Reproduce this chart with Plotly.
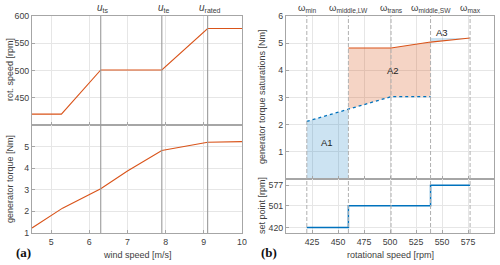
import plotly.graph_objects as go

# ---------------- data ----------------
# (a) wind speed panel
wind_speed = [4.5, 5.27, 6.3, 7.9, 9.1, 10.0]
rot_speed = [420, 420, 501, 501, 577, 577]
wind_speed_t = [4.5, 5.3, 6.3, 7.0, 7.9, 9.1, 10.0]
gen_torque = [1.23, 2.15, 3.05, 3.87, 4.82, 5.2, 5.23]
u_marks = [6.3, 7.9, 9.1]
u_labels = ["<i>u</i><sub>ts</sub>", "<i>u</i><sub>te</sub>", "<i>u</i><sub>rated</sub>"]

# (b) rotational speed panel
upper_rpm = [460, 501, 539, 577]
upper_torque = [4.82, 4.82, 5.04, 5.19]
lower_rpm = [420, 460, 501, 539]
lower_torque = [2.12, 2.57, 3.03, 3.03]
a3_top = 5.19
setpoint_rpm = [420, 460, 539, 577]
setpoint_val = [420, 501, 577, 577]
omega_marks = [420, 460, 501, 539, 577]
omega_labels = ["ω<sub>min</sub>", "ω<sub>middle,LW</sub>", "ω<sub>trans</sub>",
                "ω<sub>middle,SW</sub>", "ω<sub>max</sub>"]
area_labels = ["A1", "A2", "A3"]
area_label_pos = [(439, 1.35), (503, 4.0), (550, 5.38)]

# ---------------- style ----------------
ORANGE = "#D95319"
BLUE = "#0072BD"
BLUE_FILL = "rgba(0,114,189,0.2)"
ORANGE_FILL = "rgba(217,83,25,0.25)"
GRID = "#e6e6e6"
AXC = "#a6a6a6"
TXT = "#404040"
FONT = "Liberation Sans, Arial, sans-serif"
TICK = 8.8
TITLE = 9

fig = go.Figure()

# (a) top
fig.add_trace(go.Scatter(x=wind_speed, y=rot_speed, mode="lines",
                         line=dict(color=ORANGE, width=1.1), xaxis="x", yaxis="y"))
# (a) bottom
fig.add_trace(go.Scatter(x=wind_speed_t, y=gen_torque, mode="lines",
                         line=dict(color=ORANGE, width=1.1), xaxis="x2", yaxis="y2"))

# (b) top: A1
fig.add_trace(go.Scatter(x=lower_rpm[:2], y=lower_torque[:2], mode="lines", fill="tozeroy",
                         fillcolor=BLUE_FILL, line=dict(width=0), xaxis="x3", yaxis="y3"))
# A2 polygon
a2_x = upper_rpm[:3] + lower_rpm[1:][::-1]
a2_y = upper_torque[:3] + lower_torque[1:][::-1]
fig.add_trace(go.Scatter(x=a2_x, y=a2_y, mode="lines", fill="toself",
                         fillcolor=ORANGE_FILL, line=dict(width=0), xaxis="x3", yaxis="y3"))
# A3 polygon
a3_x = upper_rpm[2:] + upper_rpm[2:][::-1]
a3_y = upper_torque[2:] + [a3_top, a3_top]
fig.add_trace(go.Scatter(x=a3_x, y=a3_y, mode="lines", fill="toself",
                         fillcolor=BLUE_FILL, line=dict(width=0), xaxis="x3", yaxis="y3"))
# saturation lines
fig.add_trace(go.Scatter(x=upper_rpm, y=upper_torque, mode="lines",
                         line=dict(color=ORANGE, width=1.1), xaxis="x3", yaxis="y3"))
fig.add_trace(go.Scatter(x=lower_rpm, y=lower_torque, mode="lines",
                         line=dict(color=BLUE, width=1.3, dash="dot"), xaxis="x3", yaxis="y3"))
# (b) bottom: set point
fig.add_trace(go.Scatter(x=setpoint_rpm, y=setpoint_val, mode="lines", line_shape="hv",
                         line=dict(color=BLUE, width=1.5), xaxis="x4", yaxis="y4"))

# ---------------- axes ----------------
def ax(**kw):
    base = dict(showgrid=True, gridcolor=GRID, gridwidth=1, zeroline=False,
                showline=True, mirror=True, linecolor=AXC, linewidth=1,
                ticks="inside", ticklen=3, tickcolor=AXC, automargin=False,
                tickfont=dict(family=FONT, size=TICK, color=TXT))
    base.update(kw)
    return base

L = [32 / 500, 242 / 500]
R = [286 / 500, 494 / 500]
def yd(top, bot):
    return [1 - bot / 265, 1 - top / 265]

fig.update_layout(
    width=500, height=265, margin=dict(l=0, r=0, t=0, b=0, autoexpand=False),
    paper_bgcolor="white", plot_bgcolor="white", showlegend=False,
    font=dict(family=FONT, color=TXT),
    xaxis=ax(domain=L, range=[4.5, 10], tickvals=[5, 6, 7, 8, 9, 10], showticklabels=False, anchor="y"),
    yaxis=ax(domain=yd(16, 125), range=[400, 600], tickvals=[450, 500, 550, 600], anchor="x"),
    xaxis2=ax(domain=L, range=[4.5, 10], tickvals=[5, 6, 7, 8, 9, 10], anchor="y2"),
    yaxis2=ax(domain=yd(125, 233), range=[1, 6], tickvals=[1, 2, 3, 4, 5], anchor="x2"),
    xaxis3=ax(domain=R, range=[400, 600], tickvals=[425, 450, 475, 500, 525, 550, 575],
              showticklabels=False, anchor="y3"),
    yaxis3=ax(domain=yd(16, 179), range=[0, 6], tickvals=[1, 2, 3, 4, 5, 6], anchor="x3"),
    xaxis4=ax(domain=R, range=[400, 600], tickvals=[425, 450, 475, 500, 525, 550, 575], anchor="y4"),
    yaxis4=ax(domain=yd(179, 233), range=[400, 600], tickvals=[420, 501, 577], anchor="x4"),
)

# ---------------- marker lines ----------------
shapes = []
for u in u_marks:
    for xa, ya in [("x", "y"), ("x2", "y2")]:
        shapes.append(dict(type="line", xref=xa, yref=ya + " domain",
                           x0=u, x1=u, y0=0, y1=1, line=dict(color="#9a9a9a", width=1.1)))
for w in omega_marks:
    for xa, ya in [("x3", "y3"), ("x4", "y4")]:
        shapes.append(dict(type="line", xref=xa, yref=ya + " domain", x0=w, x1=w, y0=0, y1=1,
                           line=dict(color="#b0b0b0", width=1, dash="4px,2px")))
fig.update_layout(shapes=shapes)

# ---------------- annotations ----------------
ann = []
for u, lab in zip(u_marks, u_labels):
    ann.append(dict(x=u, y=1, xref="x", yref="y domain", text=lab, showarrow=False,
                    xanchor="center", yanchor="bottom", xshift=2, yshift=0,
                    font=dict(family=FONT, size=10, color=TXT)))
for w, lab in zip(omega_marks, omega_labels):
    ann.append(dict(x=w, y=1, xref="x3", yref="y3 domain", text=lab, showarrow=False,
                    xanchor="center", yanchor="bottom", xshift=0, yshift=0,
                    font=dict(family=FONT, size=9.5, color=TXT)))
for lab, (px, py) in zip(area_labels, area_label_pos):
    ann.append(dict(x=px, y=py, xref="x3", yref="y3", text=lab, showarrow=False,
                    xanchor="center", yanchor="middle",
                    font=dict(family=FONT, size=9.5, color="#222222")))

def title(px, py, text, angle=0, font=None):
    return dict(x=px / 500, y=1 - py / 265, xref="paper", yref="paper", text=text,
                textangle=angle, showarrow=False, xanchor="center", yanchor="middle",
                font=font or dict(family=FONT, size=TITLE, color=TXT))

SERIF = dict(family="Liberation Serif, Times New Roman, serif", size=13, color="#111111")
ann += [
    title(10, 70, "rot. speed [rpm]", -90),
    title(10, 179, "generator torque [Nm]", -90),
    title(137, 255, "wind speed [m/s]"),
    title(262, 97, "generator torque saturations [Nm]", -90),
    title(262, 206, "set point [rpm]", -90),
    title(390, 255, "rotational speed [rpm]"),
    title(23, 252, "<b>(a)</b>", 0, SERIF),
    title(269, 252, "<b>(b)</b>", 0, SERIF),
]
fig.update_layout(annotations=ann)

fig.write_html("out.html", config={"displayModeBar": False},
               post_script="document.body.style.margin='0px';document.body.style.padding='0px';")
